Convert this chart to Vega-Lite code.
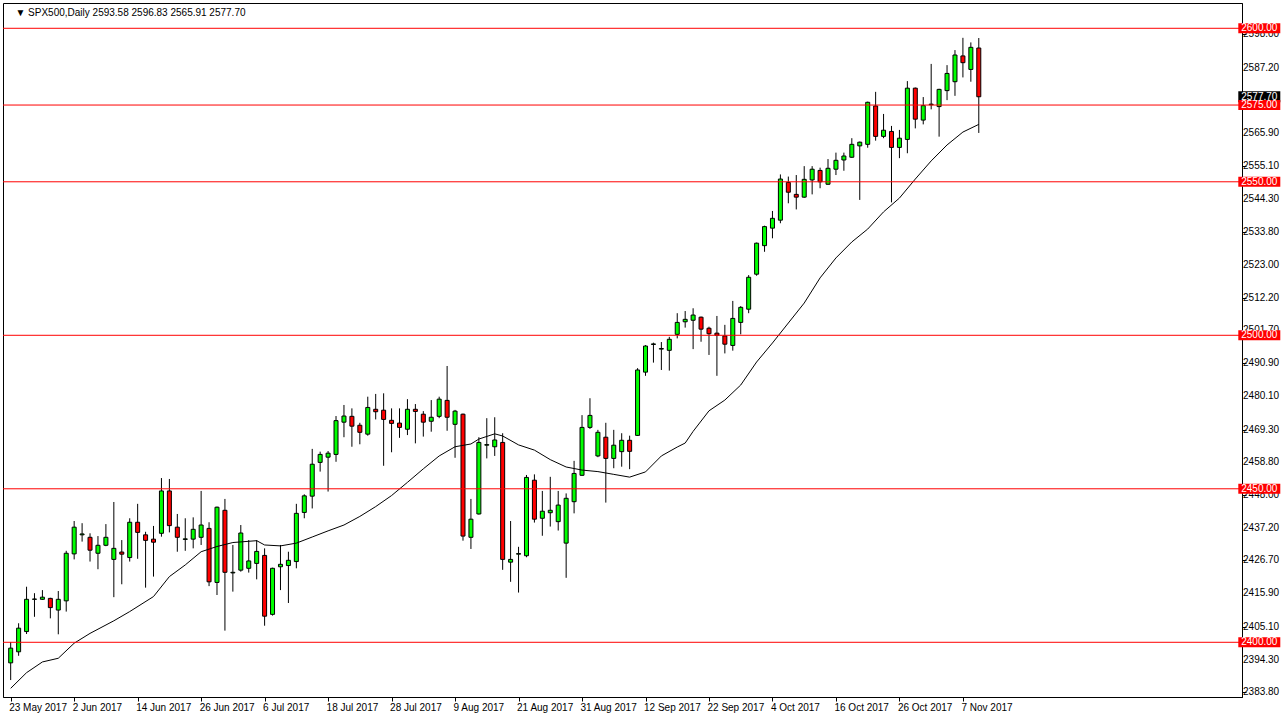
{
  "$schema": "https://vega.github.io/schema/vega-lite/v6.json",
  "width": 1239,
  "height": 694,
  "autosize": {"type": "none"},
  "padding": {"left": 3, "top": 3, "right": 45, "bottom": 23},
  "background": "white",
  "config": {"view": {"stroke": "#000000", "strokeWidth": 1}, "font": "Liberation Sans",
             "axis": {"labelOverlap": false, "labelFlush": false, "grid": false, "title": null}},
  "datasets": {
    "candles": [
      {"i":0,"o":2393.3,"h":2400.1,"l":2387.7,"c":2398.1},
      {"i":1,"o":2396.9,"h":2406.2,"l":2395.6,"c":2404.6},
      {"i":2,"o":2403.5,"h":2418.1,"l":2402.7,"c":2414.0},
      {"i":3,"o":2414.0,"h":2416.0,"l":2408.3,"c":2414.1},
      {"i":4,"o":2414.0,"h":2417.0,"l":2413.8,"c":2414.7},
      {"i":5,"o":2414.3,"h":2414.5,"l":2407.8,"c":2411.3},
      {"i":6,"o":2410.5,"h":2416.7,"l":2402.6,"c":2414.0},
      {"i":7,"o":2413.5,"h":2429.8,"l":2410.0,"c":2429.0},
      {"i":8,"o":2428.8,"h":2439.5,"l":2427.0,"c":2437.5},
      {"i":9,"o":2435.0,"h":2438.8,"l":2432.8,"c":2435.3},
      {"i":10,"o":2434.2,"h":2435.5,"l":2426.3,"c":2430.0},
      {"i":11,"o":2429.0,"h":2434.6,"l":2423.8,"c":2431.6},
      {"i":12,"o":2431.6,"h":2438.5,"l":2431.3,"c":2434.2},
      {"i":13,"o":2427.0,"h":2445.7,"l":2414.7,"c":2430.6},
      {"i":14,"o":2429.4,"h":2433.3,"l":2418.9,"c":2428.7},
      {"i":15,"o":2427.6,"h":2440.4,"l":2426.3,"c":2439.1},
      {"i":16,"o":2439.1,"h":2445.1,"l":2427.2,"c":2435.8},
      {"i":17,"o":2435.0,"h":2436.0,"l":2417.8,"c":2433.2},
      {"i":18,"o":2433.6,"h":2437.9,"l":2421.4,"c":2432.6},
      {"i":19,"o":2435.5,"h":2453.5,"l":2434.4,"c":2449.3},
      {"i":20,"o":2449.3,"h":2453.2,"l":2435.8,"c":2438.0},
      {"i":21,"o":2437.5,"h":2441.8,"l":2429.5,"c":2434.2},
      {"i":22,"o":2433.5,"h":2440.4,"l":2429.8,"c":2433.7},
      {"i":23,"o":2433.6,"h":2440.7,"l":2430.6,"c":2436.8},
      {"i":24,"o":2434.2,"h":2449.3,"l":2431.7,"c":2438.2},
      {"i":25,"o":2437.1,"h":2439.1,"l":2418.3,"c":2419.7},
      {"i":26,"o":2419.5,"h":2444.2,"l":2415.4,"c":2444.0},
      {"i":27,"o":2443.0,"h":2446.7,"l":2403.8,"c":2422.8},
      {"i":28,"o":2422.6,"h":2431.7,"l":2416.5,"c":2422.8},
      {"i":29,"o":2423.5,"h":2438.2,"l":2423.0,"c":2435.6},
      {"i":30,"o":2424.1,"h":2433.3,"l":2422.7,"c":2426.5},
      {"i":31,"o":2425.7,"h":2433.3,"l":2420.5,"c":2429.6},
      {"i":32,"o":2428.3,"h":2430.6,"l":2405.4,"c":2408.5},
      {"i":33,"o":2409.1,"h":2424.3,"l":2408.7,"c":2424.1},
      {"i":34,"o":2424.6,"h":2431.7,"l":2417.0,"c":2425.4},
      {"i":35,"o":2425.0,"h":2429.5,"l":2412.8,"c":2426.7},
      {"i":36,"o":2426.3,"h":2445.1,"l":2424.1,"c":2442.0},
      {"i":37,"o":2442.3,"h":2448.2,"l":2440.4,"c":2447.7},
      {"i":38,"o":2447.6,"h":2463.0,"l":2443.6,"c":2458.0},
      {"i":39,"o":2458.6,"h":2462.1,"l":2455.6,"c":2461.2},
      {"i":40,"o":2460.3,"h":2462.3,"l":2449.1,"c":2461.6},
      {"i":41,"o":2461.2,"h":2473.7,"l":2458.8,"c":2472.2},
      {"i":42,"o":2471.7,"h":2477.3,"l":2466.8,"c":2473.7},
      {"i":43,"o":2473.6,"h":2476.2,"l":2463.7,"c":2470.4},
      {"i":44,"o":2470.7,"h":2471.5,"l":2464.5,"c":2468.4},
      {"i":45,"o":2467.8,"h":2480.0,"l":2467.3,"c":2476.5},
      {"i":46,"o":2475.9,"h":2480.9,"l":2472.6,"c":2475.1},
      {"i":47,"o":2475.6,"h":2481.1,"l":2457.5,"c":2472.6},
      {"i":48,"o":2472.3,"h":2476.2,"l":2461.9,"c":2471.3},
      {"i":49,"o":2471.4,"h":2476.2,"l":2466.6,"c":2470.0},
      {"i":50,"o":2469.4,"h":2479.2,"l":2467.5,"c":2475.9},
      {"i":51,"o":2475.9,"h":2477.6,"l":2464.8,"c":2475.2},
      {"i":52,"o":2474.3,"h":2475.3,"l":2467.0,"c":2471.7},
      {"i":53,"o":2472.0,"h":2478.9,"l":2468.6,"c":2473.3},
      {"i":54,"o":2473.6,"h":2480.0,"l":2473.0,"c":2479.2},
      {"i":55,"o":2478.8,"h":2490.0,"l":2468.9,"c":2473.3},
      {"i":56,"o":2471.0,"h":2475.7,"l":2460.1,"c":2475.3},
      {"i":57,"o":2474.3,"h":2474.5,"l":2433.1,"c":2434.6},
      {"i":58,"o":2434.2,"h":2446.7,"l":2430.4,"c":2440.1},
      {"i":59,"o":2441.8,"h":2466.8,"l":2441.6,"c":2465.1},
      {"i":60,"o":2464.2,"h":2473.0,"l":2459.9,"c":2464.4},
      {"i":61,"o":2463.7,"h":2473.3,"l":2460.7,"c":2465.9},
      {"i":62,"o":2465.1,"h":2468.1,"l":2423.6,"c":2427.0},
      {"i":63,"o":2426.1,"h":2439.5,"l":2419.7,"c":2427.0},
      {"i":64,"o":2428.7,"h":2431.1,"l":2416.2,"c":2428.9},
      {"i":65,"o":2428.2,"h":2454.5,"l":2427.7,"c":2453.7},
      {"i":66,"o":2452.8,"h":2454.7,"l":2439.0,"c":2440.1},
      {"i":67,"o":2440.4,"h":2449.3,"l":2434.7,"c":2442.7},
      {"i":68,"o":2442.2,"h":2453.9,"l":2437.7,"c":2443.0},
      {"i":69,"o":2439.3,"h":2449.3,"l":2436.4,"c":2444.7},
      {"i":70,"o":2432.3,"h":2448.5,"l":2421.0,"c":2446.9},
      {"i":71,"o":2445.8,"h":2459.1,"l":2442.0,"c":2455.0},
      {"i":72,"o":2454.4,"h":2474.0,"l":2454.2,"c":2470.0},
      {"i":73,"o":2470.0,"h":2479.5,"l":2469.5,"c":2473.9},
      {"i":74,"o":2460.7,"h":2469.2,"l":2460.3,"c":2468.4},
      {"i":75,"o":2466.8,"h":2471.5,"l":2445.5,"c":2459.9},
      {"i":76,"o":2459.9,"h":2469.2,"l":2456.7,"c":2464.2},
      {"i":77,"o":2462.1,"h":2468.1,"l":2457.2,"c":2465.8},
      {"i":78,"o":2465.8,"h":2467.3,"l":2456.4,"c":2462.2},
      {"i":79,"o":2467.4,"h":2489.3,"l":2467.2,"c":2488.7},
      {"i":80,"o":2488.0,"h":2496.8,"l":2486.8,"c":2496.5},
      {"i":81,"o":2497.0,"h":2497.6,"l":2491.1,"c":2497.2},
      {"i":82,"o":2495.5,"h":2497.8,"l":2488.7,"c":2495.7},
      {"i":83,"o":2495.1,"h":2499.5,"l":2488.5,"c":2498.7},
      {"i":84,"o":2500.3,"h":2507.2,"l":2499.0,"c":2504.2},
      {"i":85,"o":2504.4,"h":2507.9,"l":2502.5,"c":2505.2},
      {"i":86,"o":2504.9,"h":2508.8,"l":2495.5,"c":2506.6},
      {"i":87,"o":2505.9,"h":2506.1,"l":2497.9,"c":2502.0},
      {"i":88,"o":2502.3,"h":2502.8,"l":2493.6,"c":2500.5},
      {"i":89,"o":2500.7,"h":2506.3,"l":2486.8,"c":2500.0},
      {"i":90,"o":2499.8,"h":2503.4,"l":2494.1,"c":2497.1},
      {"i":91,"o":2496.7,"h":2511.2,"l":2495.0,"c":2505.5},
      {"i":92,"o":2504.2,"h":2509.5,"l":2500.3,"c":2509.1},
      {"i":93,"o":2508.5,"h":2519.6,"l":2507.2,"c":2518.9},
      {"i":94,"o":2519.9,"h":2530.2,"l":2519.4,"c":2530.0},
      {"i":95,"o":2529.2,"h":2535.7,"l":2527.2,"c":2535.4},
      {"i":96,"o":2534.9,"h":2540.5,"l":2531.6,"c":2538.1},
      {"i":97,"o":2537.5,"h":2552.4,"l":2536.5,"c":2550.9},
      {"i":98,"o":2549.8,"h":2551.7,"l":2543.0,"c":2546.6},
      {"i":99,"o":2545.9,"h":2552.2,"l":2541.0,"c":2545.0},
      {"i":100,"o":2545.0,"h":2555.1,"l":2544.8,"c":2550.8},
      {"i":101,"o":2550.6,"h":2555.1,"l":2545.9,"c":2554.1},
      {"i":102,"o":2553.7,"h":2554.6,"l":2547.9,"c":2550.0},
      {"i":103,"o":2549.2,"h":2557.4,"l":2549.0,"c":2554.4},
      {"i":104,"o":2554.1,"h":2559.5,"l":2552.2,"c":2557.0},
      {"i":105,"o":2557.1,"h":2559.5,"l":2553.6,"c":2558.4},
      {"i":106,"o":2558.0,"h":2564.2,"l":2557.8,"c":2562.2},
      {"i":107,"o":2561.7,"h":2563.1,"l":2544.1,"c":2562.9},
      {"i":108,"o":2562.2,"h":2576.1,"l":2561.1,"c":2575.9},
      {"i":109,"o":2574.7,"h":2579.3,"l":2563.4,"c":2564.8},
      {"i":110,"o":2564.8,"h":2572.1,"l":2564.2,"c":2566.8},
      {"i":111,"o":2566.4,"h":2568.2,"l":2543.3,"c":2561.2},
      {"i":112,"o":2561.2,"h":2566.9,"l":2557.7,"c":2564.2},
      {"i":113,"o":2563.8,"h":2582.8,"l":2559.3,"c":2580.5},
      {"i":114,"o":2580.5,"h":2580.7,"l":2567.4,"c":2570.4},
      {"i":115,"o":2570.1,"h":2577.6,"l":2568.7,"c":2574.8},
      {"i":116,"o":2575.1,"h":2588.4,"l":2573.6,"c":2575.3},
      {"i":117,"o":2574.5,"h":2580.3,"l":2564.7,"c":2580.1},
      {"i":118,"o":2579.7,"h":2588.0,"l":2576.6,"c":2585.3},
      {"i":119,"o":2582.6,"h":2592.9,"l":2578.0,"c":2591.3},
      {"i":120,"o":2591.0,"h":2596.9,"l":2584.0,"c":2588.8},
      {"i":121,"o":2586.6,"h":2595.4,"l":2582.6,"c":2593.8},
      {"i":122,"o":2593.58,"h":2596.83,"l":2565.91,"c":2577.70}
    ],
    "ma": [
      {"i":0,"v":2385.0},{"i":2,"v":2390.1},{"i":4,"v":2393.6},{"i":6,"v":2394.8},{"i":8,"v":2399.7},
      {"i":10,"v":2402.9},{"i":13,"v":2407.0},{"i":15,"v":2410.0},{"i":18,"v":2414.9},{"i":20,"v":2421.4},
      {"i":22,"v":2425.2},{"i":24,"v":2429.5},{"i":26,"v":2431.2},{"i":28,"v":2432.5},{"i":31,"v":2433.1},
      {"i":32,"v":2431.7},{"i":34,"v":2431.4},{"i":36,"v":2432.3},{"i":38,"v":2434.3},{"i":40,"v":2436.3},
      {"i":42,"v":2438.2},{"i":44,"v":2441.0},{"i":46,"v":2444.2},{"i":48,"v":2447.8},{"i":50,"v":2452.1},
      {"i":52,"v":2456.5},{"i":54,"v":2460.7},{"i":56,"v":2463.7},{"i":58,"v":2464.6},{"i":59,"v":2466.2},
      {"i":61,"v":2467.9},{"i":62,"v":2467.2},{"i":64,"v":2464.3},{"i":66,"v":2462.6},{"i":68,"v":2459.5},
      {"i":70,"v":2457.1},{"i":72,"v":2456.1},{"i":74,"v":2455.6},{"i":76,"v":2454.7},{"i":78,"v":2453.8},
      {"i":80,"v":2455.5},{"i":82,"v":2460.7},{"i":84,"v":2463.6},{"i":85,"v":2464.9},{"i":86,"v":2468.7},
      {"i":88,"v":2475.4},{"i":90,"v":2478.9},{"i":92,"v":2483.8},{"i":94,"v":2491.3},{"i":96,"v":2497.5},
      {"i":98,"v":2504.0},{"i":100,"v":2510.5},{"i":102,"v":2518.7},{"i":104,"v":2525.2},{"i":106,"v":2530.4},
      {"i":108,"v":2534.6},{"i":110,"v":2540.2},{"i":112,"v":2544.7},{"i":114,"v":2550.9},{"i":116,"v":2556.8},
      {"i":118,"v":2562.0},{"i":120,"v":2566.2},{"i":122,"v":2568.7}
    ],
    "yticks": [
      {"p":2598.0},{"p":2587.2},{"p":2576.4},{"p":2565.9},{"p":2555.1},{"p":2544.3},{"p":2533.8},{"p":2523.0},
      {"p":2512.2},{"p":2501.7},{"p":2490.9},{"p":2480.1},{"p":2469.3},{"p":2458.8},{"p":2448.0},{"p":2437.2},
      {"p":2426.7},{"p":2415.9},{"p":2405.1},{"p":2394.3},{"p":2383.8}
    ],
    "levels": [{"p":2600},{"p":2575},{"p":2550},{"p":2500},{"p":2450},{"p":2400}],
    "current": [{"p":2577.70}]
  },
  "layer": [
    {
      "data": {"name": "candles"},
      "mark": {"type": "rule", "color": "#000000", "strokeWidth": 1},
      "encoding": {
        "x": {"field": "i", "type": "quantitative", "title": null,
              "scale": {"domain": [-0.3375, 154.54], "nice": false, "zero": false},
              "axis": {"values": [0,8,16,24,32,40,48,56,64,72,80,88,96,104,112,120],
                       "labelExpr": "['23 May 2017','2 Jun 2017','14 Jun 2017','26 Jun 2017','6 Jul 2017','18 Jul 2017','28 Jul 2017','9 Aug 2017','21 Aug 2017','31 Aug 2017','12 Sep 2017','22 Sep 2017','4 Oct 2017','16 Oct 2017','26 Oct 2017','7 Nov 2017'][datum.value/8]",
                       "labelAlign": "left", "labelOffset": -2, "labelFont": "Liberation Sans", "labelFontSize": 10,
                       "labelColor": "#000000", "tickColor": "#000000", "tickSize": 4, "labelPadding": 1,
                       "domainColor": "#000000", "grid": false, "labelFlush": false, "labelOverlap": false, "title": null}},
        "y": {"field": "l", "type": "quantitative", "title": null,
              "scale": {"domain": [2382.18, 2608.24], "nice": false, "zero": false},
              "axis": {"orient": "right",
                       "values": [2598.0,2587.2,2576.4,2565.9,2555.1,2544.3,2533.8,2523.0,2512.2,2501.7,2490.9,2480.1,2469.3,2458.8,2448.0,2437.2,2426.7,2415.9,2405.1,2394.3,2383.8],
                       "labels": false, "tickColor": "#000000", "tickSize": 4, "domainColor": "#000000",
                       "grid": false, "title": null}},
        "y2": {"field": "h"}
      }
    },
    {
      "data": {"name": "candles"},
      "mark": {"type": "bar", "size": 4, "stroke": "#000000", "strokeWidth": 1},
      "encoding": {
        "x": {"field": "i", "type": "quantitative", "title": null, "scale": {"domain": [-0.3375, 154.54], "nice": false, "zero": false}},
        "y": {"field": "o", "type": "quantitative", "title": null, "scale": {"domain": [2382.18, 2608.24], "nice": false, "zero": false}},
        "y2": {"field": "c"},
        "fill": {"condition": {"test": "datum.c >= datum.o", "value": "#00ff00"}, "value": "#ff0000"}
      }
    },
    {
      "data": {"name": "ma"},
      "mark": {"type": "line", "color": "#000000", "strokeWidth": 1},
      "encoding": {
        "x": {"field": "i", "type": "quantitative", "title": null, "scale": {"domain": [-0.3375, 154.54], "nice": false, "zero": false}},
        "y": {"field": "v", "type": "quantitative", "title": null, "scale": {"domain": [2382.18, 2608.24], "nice": false, "zero": false}}
      }
    },
    {
      "data": {"name": "yticks"},
      "mark": {"type": "text", "color": "#000000", "font": "Liberation Sans", "fontSize": 10, "align": "left", "baseline": "middle"},
      "encoding": {
        "x": {"datum": 155.3, "type": "quantitative", "scale": {"domain": [-0.3375, 154.54], "nice": false, "zero": false}},
        "y": {"field": "p", "type": "quantitative", "title": null, "scale": {"domain": [2382.18, 2608.24], "nice": false, "zero": false}},
        "text": {"field": "p", "type": "quantitative", "format": ".2f"}
      }
    },
    {
      "data": {"name": "levels"},
      "mark": {"type": "rule", "color": "#ff0000", "strokeWidth": 1},
      "encoding": {
        "y": {"field": "p", "type": "quantitative", "title": null, "scale": {"domain": [2382.18, 2608.24], "nice": false, "zero": false}}
      }
    },
    {
      "data": {"name": "current"},
      "mark": {"type": "tick", "orient": "horizontal", "size": 42, "thickness": 11, "color": "#000000", "opacity": 1},
      "encoding": {
        "x": {"datum": 157.35, "type": "quantitative", "scale": {"domain": [-0.3375, 154.54], "nice": false, "zero": false}},
        "y": {"field": "p", "type": "quantitative", "title": null, "scale": {"domain": [2382.18, 2608.24], "nice": false, "zero": false}}
      }
    },
    {
      "data": {"name": "current"},
      "mark": {"type": "text", "color": "#ffffff", "font": "Liberation Sans", "fontSize": 10, "align": "center", "baseline": "middle"},
      "encoding": {
        "x": {"datum": 157.35, "type": "quantitative", "scale": {"domain": [-0.3375, 154.54], "nice": false, "zero": false}},
        "y": {"field": "p", "type": "quantitative", "title": null, "scale": {"domain": [2382.18, 2608.24], "nice": false, "zero": false}},
        "text": {"field": "p", "type": "quantitative", "format": ".2f"}
      }
    },
    {
      "data": {"name": "levels"},
      "mark": {"type": "tick", "orient": "horizontal", "size": 42, "thickness": 10, "color": "#ff0000", "opacity": 1},
      "encoding": {
        "x": {"datum": 157.35, "type": "quantitative", "scale": {"domain": [-0.3375, 154.54], "nice": false, "zero": false}},
        "y": {"field": "p", "type": "quantitative", "title": null, "scale": {"domain": [2382.18, 2608.24], "nice": false, "zero": false}}
      }
    },
    {
      "data": {"name": "levels"},
      "mark": {"type": "text", "color": "#ffffff", "font": "Liberation Sans", "fontSize": 10, "align": "center", "baseline": "middle"},
      "encoding": {
        "x": {"datum": 157.35, "type": "quantitative", "scale": {"domain": [-0.3375, 154.54], "nice": false, "zero": false}},
        "y": {"field": "p", "type": "quantitative", "title": null, "scale": {"domain": [2382.18, 2608.24], "nice": false, "zero": false}},
        "text": {"field": "p", "type": "quantitative", "format": ".2f"}
      }
    },
    {
      "data": {"values": [{"t": "▼  SPX500,Daily  2593.58 2596.83 2565.91 2577.70"}]},
      "mark": {"type": "text", "color": "#000000", "font": "Liberation Sans", "fontSize": 10, "align": "left", "baseline": "middle"},
      "encoding": {
        "x": {"datum": 0.6, "type": "quantitative", "scale": {"domain": [-0.3375, 154.54], "nice": false, "zero": false}},
        "y": {"datum": 2605.1, "type": "quantitative", "scale": {"domain": [2382.18, 2608.24], "nice": false, "zero": false}},
        "text": {"field": "t", "type": "nominal"}
      }
    }
  ]
}
